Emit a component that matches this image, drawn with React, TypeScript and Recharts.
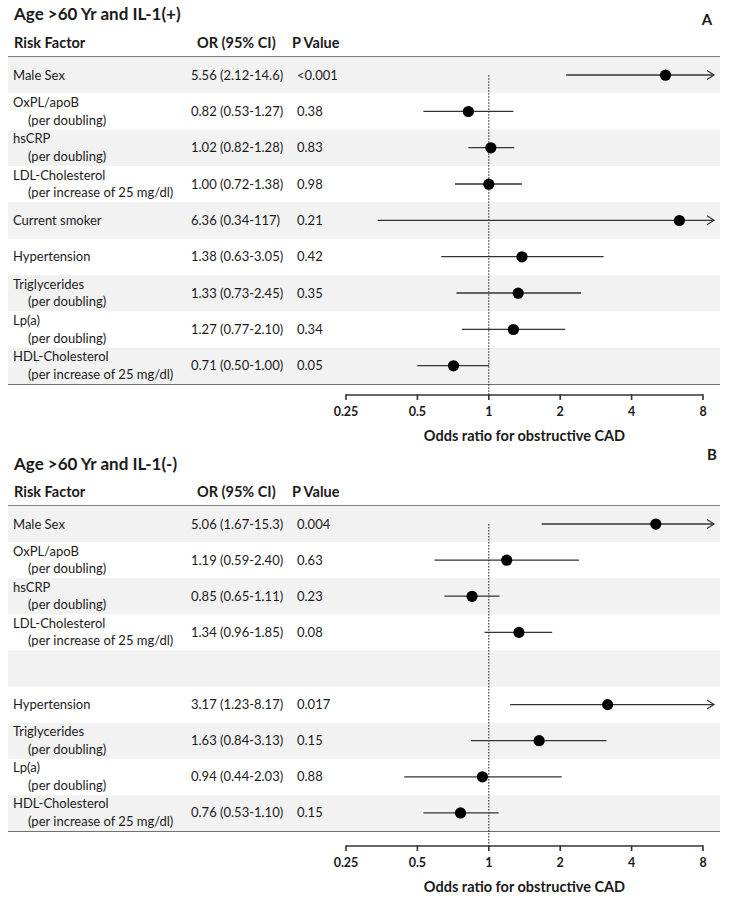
import React from "react";
import {
    ComposedChart,
    XAxis,
    YAxis,
    Bar,
    Scatter,
    ReferenceArea,
    ReferenceLine,
} from "recharts";

const FONT = "Lato, 'Open Sans', sans-serif";

// panel A: age > 60, IL-1 genotype positive
const factorsA = ["Male Sex", "OxPL/apoB", "hsCRP", "LDL-Cholesterol", "Current smoker", "Hypertension", "Triglycerides", "Lp(a)", "HDL-Cholesterol"];
const unitsA = ["", "(per doubling)", "(per doubling)", "(per increase of 25 mg/dl)", "", "", "(per doubling)", "(per doubling)", "(per increase of 25 mg/dl)"];
const orA = [5.56, 0.82, 1.02, 1.0, 6.36, 1.38, 1.33, 1.27, 0.71];
const loA = [2.12, 0.53, 0.82, 0.72, 0.34, 0.63, 0.73, 0.77, 0.5];
const hiA = [14.6, 1.27, 1.28, 1.38, 117, 3.05, 2.45, 2.1, 1.0];
const pA = ["<0.001", "0.38", "0.83", "0.98", "0.21", "0.42", "0.35", "0.34", "0.05"];

// panel B: age > 60, IL-1 genotype negative (no smoker estimate)
const factorsB = ["Male Sex", "OxPL/apoB", "hsCRP", "LDL-Cholesterol", "", "Hypertension", "Triglycerides", "Lp(a)", "HDL-Cholesterol"];
const unitsB = ["", "(per doubling)", "(per doubling)", "(per increase of 25 mg/dl)", "", "", "(per doubling)", "(per doubling)", "(per increase of 25 mg/dl)"];
const orB = [5.06, 1.19, 0.85, 1.34, null, 3.17, 1.63, 0.94, 0.76];
const loB = [1.67, 0.59, 0.65, 0.96, null, 1.23, 0.84, 0.44, 0.53];
const hiB = [15.3, 2.4, 1.11, 1.85, null, 8.17, 3.13, 2.03, 1.1];
const pB = ["0.004", "0.63", "0.23", "0.08", "", "0.017", "0.15", "0.88", "0.15"];

const X_TICKS = [0.25, 0.5, 1, 2, 4, 8];
const AXIS_MIN = 0.25;
const AXIS_MAX = 8;
const ARROW_END = 8.9; // CIs past the axis are cut here and get an arrow

type Row = {
    id: string;
    factor: string;
    unit: string;
    or: number | null;
    lo: number | null;
    hi: number | null;
    p: string;
};

const buildRows = (
    factors: string[],
    units: string[],
    ors: (number | null)[],
    los: (number | null)[],
    his: (number | null)[],
    ps: string[]
): Row[] =>
    factors.map((f, i) => ({
        id: "r" + i,
        factor: f,
        unit: units[i],
        or: ors[i],
        lo: los[i],
        hi: his[i],
        p: ps[i],
    }));

const rowsA = buildRows(factorsA, unitsA, orA, loA, hiA, pA);
const rowsB = buildRows(factorsB, unitsB, orB, loB, hiB, pB);

const fmt = (v: number) => (v >= 10 ? v.toPrecision(3) : v.toFixed(2));
const orText = (r: Row) =>
    r.or == null || r.lo == null || r.hi == null ? "" : `${r.or.toFixed(2)} (${fmt(r.lo)}-${fmt(r.hi)})`;

const ciRange = (r: Row) =>
    r.lo == null || r.hi == null ? null : [r.lo, r.hi > AXIS_MAX ? ARROW_END : r.hi];

// layout: the plot spans the whole row width, the table sits left of 0.25
const W = 729;
const PLOT_LEFT = 8;
const STEP = 71.4; // px per doubling
const PAD_LEFT = 338;
const PAD_RIGHT = 17;
const PLOT_RIGHT = PLOT_LEFT + PAD_LEFT + STEP * (X_TICKS.length - 1) + PAD_RIGHT;
const X_MIN = AXIS_MIN / 2 ** (PAD_LEFT / STEP);
const X_MAX = AXIS_MAX * 2 ** (PAD_RIGHT / STEP);
const X_AXIS_H = 60;

const CiShape = (props: any) => {
    const { x, y, width, height, payload } = props;
    if (payload == null || payload.lo == null) return <g />;
    const cy = y + height / 2;
    const x2 = x + width;
    return (
        <g>
            <line x1={x} x2={x2} y1={cy} y2={cy} stroke="#333" strokeWidth={1.3} />
            {payload.hi > AXIS_MAX && (
                <polyline
                    points={`${x2 - 7},${cy - 4.5} ${x2},${cy} ${x2 - 7},${cy + 4.5}`}
                    fill="none"
                    stroke="#333"
                    strokeWidth={1.2}
                />
            )}
        </g>
    );
};

const Dot = (props: any) => {
    const { cx, cy, payload } = props;
    if (payload == null || payload.or == null) return <g />;
    return <circle cx={cx} cy={cy} r={5.6} fill="#000" />;
};

type PanelProps = {
    rows: Row[];
    top: number;
    height: number;
    title: string;
    titleBase: number;
    letter: string;
    letterX: number;
    letterBase: number;
    headerBase: number;
    plotTop: number;
    plotBottom: number;
    axisY: number;
};

// all y values in PanelProps are page coordinates
const Panel: React.FC<PanelProps> = ({
    rows,
    top,
    height,
    title,
    titleBase,
    letter,
    letterX,
    letterBase,
    headerBase,
    plotTop,
    plotBottom,
    axisY,
}) => {
    const pTop = plotTop - top;
    const pBottom = plotBottom - top;
    const aY = axisY - top;
    const halfBand = (plotBottom - plotTop) / rows.length / 2;

    const XTick = (props: any) => {
        const { x, payload, index } = props;
        return (
            <g>
                {index > 0 && (
                    <line x1={x - STEP} x2={x} y1={aY} y2={aY} stroke="#333" strokeWidth={1.6} />
                )}
                <line x1={x} x2={x} y1={aY - 0.8} y2={aY + 5} stroke="#333" strokeWidth={1.6} />
                <text
                    x={x}
                    y={aY + 21}
                    textAnchor="middle"
                    fontFamily={FONT}
                    fontWeight="bold"
                    fontSize={12.5}
                    fill="#1a1a1a"
                >
                    {payload.value}
                </text>
            </g>
        );
    };

    const YTick = (props: any) => {
        const { y, payload } = props;
        const r = rows.find((d) => d.id === payload.value);
        if (!r) return <g />;
        const two = r.unit !== "";
        return (
            <g fontFamily={FONT} fontSize={13} fill="#1a1a1a">
                <text x={13} y={two ? y - 4.5 : y + 4.5}>{r.factor}</text>
                {two && <text x={28} y={y + 13}>{r.unit}</text>}
                <text x={191} y={y + 4.5}>{orText(r)}</text>
                <text x={297} y={y + 4.5}>{r.p}</text>
            </g>
        );
    };

    const RefShape = (props: any) => {
        const { x1, y1, y2 } = props;
        const y0 = Math.min(y1, y2) + halfBand;
        const yEnd = Math.max(y1, y2) + (aY - pBottom);
        return (
            <line
                x1={x1}
                x2={x1}
                y1={y0}
                y2={yEnd}
                stroke="#333"
                strokeWidth={1.2}
                strokeDasharray="1.5 1.5"
            />
        );
    };

    return (
        <ComposedChart
            width={W}
            height={height}
            data={rows}
            layout="vertical"
            margin={{
                top: pTop,
                right: W - PLOT_RIGHT,
                bottom: height - pBottom - X_AXIS_H,
                left: PLOT_LEFT,
            }}
        >
            {rows.map((r, i) =>
                i % 2 === 0 ? (
                    <ReferenceArea
                        key={r.id}
                        y1={r.id}
                        y2={r.id}
                        fill="#f2f2f2"
                        fillOpacity={1}
                        stroke="none"
                        ifOverflow="visible"
                    />
                ) : null
            )}
            <XAxis
                type="number"
                scale="log"
                domain={[X_MIN, X_MAX]}
                ticks={X_TICKS}
                interval={0}
                axisLine={false}
                tickLine={false}
                tick={XTick}
                height={X_AXIS_H}
            />
            <YAxis
                type="category"
                dataKey="id"
                mirror
                interval={0}
                allowDuplicatedCategory={false}
                axisLine={false}
                tickLine={false}
                tick={YTick}
            />
            <ReferenceLine x={1} ifOverflow="visible" shape={RefShape} />
            <Bar dataKey={ciRange} barSize={8} shape={CiShape} isAnimationActive={false} />
            <Scatter dataKey="or" shape={Dot} isAnimationActive={false} />

            {/* title, panel letter, column headers */}
            <text x={14} y={titleBase - top} fontFamily={FONT} fontWeight="bold" fontSize={17} fill="#1a1a1a">
                {title}
            </text>
            <text
                x={letterX}
                y={letterBase - top}
                textAnchor="middle"
                fontFamily={FONT}
                fontWeight="bold"
                fontSize={15}
                fill="#1a1a1a"
            >
                {letter}
            </text>
            <g fontFamily={FONT} fontWeight="bold" fontSize={14.5} fill="#1a1a1a">
                <text x={14} y={headerBase - top}>Risk Factor</text>
                <text x={197} y={headerBase - top}>OR (95% CI)</text>
                <text x={292} y={headerBase - top}>P Value</text>
            </g>
            <line x1={PLOT_LEFT} x2={PLOT_RIGHT} y1={pTop} y2={pTop} stroke="#7f7f7f" strokeWidth={2} />
            <line x1={PLOT_LEFT} x2={PLOT_RIGHT} y1={pBottom} y2={pBottom} stroke="#404040" strokeWidth={1.5} />
            <text
                x={PLOT_LEFT + PAD_LEFT + (STEP * (X_TICKS.length - 1)) / 2}
                y={aY + 46}
                textAnchor="middle"
                fontFamily={FONT}
                fontWeight="bold"
                fontSize={14.5}
                fill="#1a1a1a"
            >
                Odds ratio for obstructive CAD
            </text>
        </ComposedChart>
    );
};

export default function App() {
    return (
        <div style={{ position: "absolute", left: 0, top: 0, width: W, height: 899, background: "#fff" }}>
            <Panel
                rows={rowsA}
                top={0}
                height={444}
                title="Age >60 Yr and IL-1(+)"
                titleBase={20}
                letter="A"
                letterX={707}
                letterBase={24.5}
                headerBase={48}
                plotTop={57}
                plotBottom={384}
                axisY={395}
            />
            <Panel
                rows={rowsB}
                top={444}
                height={455}
                title="Age >60 Yr and IL-1(-)"
                titleBase={470}
                letter="B"
                letterX={712}
                letterBase={459.5}
                headerBase={497}
                plotTop={506}
                plotBottom={831}
                axisY={846}
            />
        </div>
    );
}
